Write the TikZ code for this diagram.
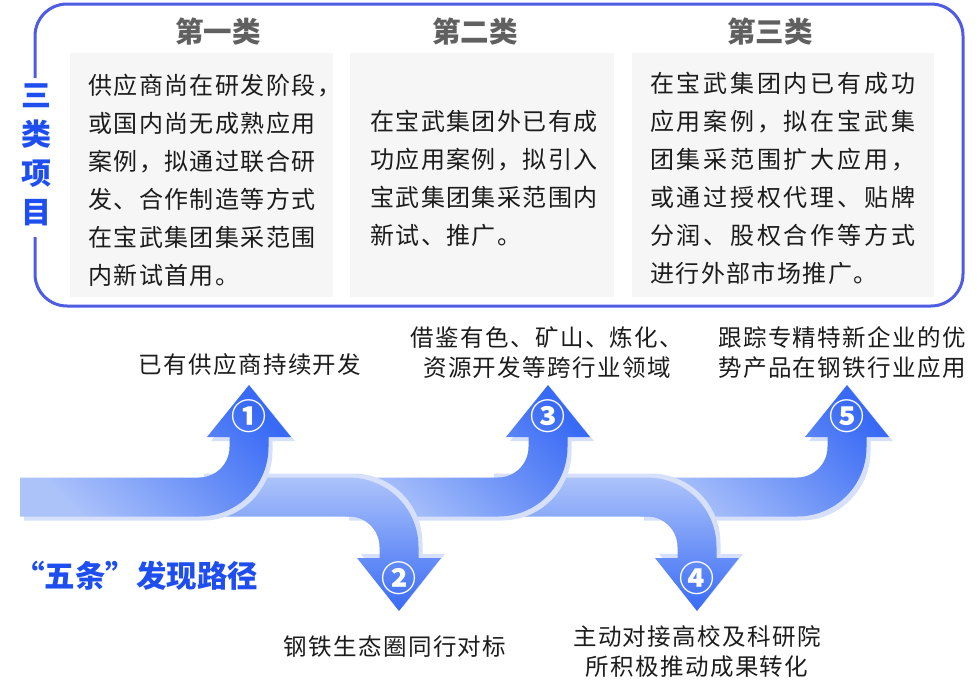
\documentclass[tikz,border=0pt]{standalone}
\usepackage{fontspec}
\setmainfont{Noto Sans CJK SC}
\newfontfamily\lsfont{Noto Sans CJK SC}[LetterSpace=6]
\newfontfamily\lsfontwide{Noto Sans CJK SC}[LetterSpace=11.5]
\definecolor{adark}{RGB}{56,106,245}
\definecolor{alight}{RGB}{172,195,250}
\definecolor{halo}{RGB}{214,224,251}
\definecolor{framecol}{RGB}{78,92,228}
\definecolor{titleblue}{RGB}{30,78,240}
\definecolor{boxgray}{RGB}{246,246,246}
\definecolor{headgray}{RGB}{96,96,96}
\definecolor{txt}{RGB}{28,28,28}
\begin{document}
\begin{tikzpicture}[x=1pt,y=-1pt,
  uparr/.style 2 args={insert path={(#1,477.5) -- ({#2-50},477.5)
     .. controls ({#2-33.15},477.5) and ({#2-19.5},463.85) .. ({#2-19.5},447)
     -- ({#2-19.5},437) -- ({#2-42},437) -- (#2,385) -- ({#2+42},437) -- ({#2+19.5},437)
     -- ({#2+19.5},447) .. controls ({#2+19.5},485.38) and ({#2-11.62},516.5) .. ({#2-50},516.5)
     -- (#1,516.5) -- cycle}},
  downarr/.style 2 args={insert path={(#1,477.5) -- ({#2-50},477.5)
     .. controls ({#2-11.62},477.5) and ({#2+19.5},508.62) .. ({#2+19.5},547)
     -- ({#2+19.5},558) -- ({#2+42},558) -- (#2,611) -- ({#2-42},558) -- ({#2-19.5},558)
     -- ({#2-19.5},547) .. controls ({#2-19.5},530.15) and ({#2-33.15},516.5) .. ({#2-50},516.5)
     -- (#1,516.5) -- cycle}},
  upfill/.style={bottom color=alight, top color=adark, shading angle=-45},
  downfill/.style={top color=alight, bottom color=adark},
  num/.style={text=white, font=\bfseries\fontsize{35}{35}\selectfont, inner sep=0pt},
  lbl/.style={text=txt, font=\lsfont\fontsize{23.5}{30}\selectfont, inner sep=0pt},
  boxtxt/.style={text=txt, font=\lsfont\fontsize{24}{38}\selectfont, inner sep=0pt, align=left, anchor=west},
  head/.style={text=headgray, font=\bfseries\fontsize{28.5}{28.5}\selectfont, inner sep=0pt},
  gbox/.style={fill=boxgray, draw=none, inner sep=0pt},
]
\useasboundingbox (0,0) rectangle (977,688);

% frame
\draw[framecol, line width=3pt, rounded corners=32pt]
  (35,237) -- (35,306) -- (963,306) -- (963,4) -- (35,4) -- (35,78);
\node[text=titleblue, font=\bfseries\fontsize{30}{39}\selectfont, align=center, inner sep=0pt]
  (vtitle) at (36,155) {三\\类\\项\\目};

% gray boxes
\node[gbox, minimum width=263pt, minimum height=244pt] (g1) at (201.5,175) {};
\node[gbox, minimum width=264pt, minimum height=244pt] (g2) at (482,175) {};
\node[gbox, minimum width=302pt, minimum height=244pt] (g3) at (783,175) {};

\node[head] (h1) at (218,32) {第一类};
\node[head] (h2) at (475,32) {第二类};
\node[head] (h3) at (770,32) {第三类};

\node[boxtxt] (b1) at (88,180) {供应商尚在研发阶段，\\或国内尚无成熟应用\\案例，拟通过联合研\\发、合作制造等方式\\在宝武集团集采范围\\内新试首用。};
\node[boxtxt] (b2) at (370,178) {在宝武集团外已有成\\功应用案例，拟引入\\宝武集团集采范围内\\新试、推广。};
\node[boxtxt, font=\lsfontwide\fontsize{24}{38}\selectfont] (b3) at (650,178) {在宝武集团内已有成功\\应用案例，拟在宝武集\\团集采范围扩大应用，\\或通过授权代理、贴牌\\分润、股权合作等方式\\{\lsfont 进行外部市场推广。}};

% arrows (back to front)
\path[fill=halo, shift={(4,4)}, uparr={640}{847}];
\path[upfill, uparr={640}{847}];
\path[fill=halo, shift={(4,-4)}, downarr={490}{697}];
\path[downfill, downarr={490}{697}];
\path[fill=halo, shift={(4,4)}, uparr={345}{548}];
\path[upfill, uparr={345}{548}];
\path[fill=halo, shift={(4,-4)}, downarr={200}{399}];
\path[downfill, downarr={200}{399}];
\path[fill=halo, shift={(4,4)}, uparr={20}{249}];
\path[upfill, uparr={20}{249}];

\node[num] (n1) at (249,416) {①};
\node[num] (n2) at (399,578) {②};
\node[num] (n3) at (548,416) {③};
\node[num] (n4) at (697,578) {④};
\node[num] (n5) at (847,416) {⑤};

% labels
\node[lbl] (l1) at (250,365) {已有供应商持续开发};
\node[lbl, align=center] (l3) at (547,353) {借鉴有色、矿山、炼化、\\资源开发等跨行业领域};
\node[lbl, align=left, anchor=west] (l5) at (718,353) {跟踪专精特新企业的优\\势产品在钢铁行业应用};
\node[lbl] (l2) at (395,647) {钢铁生态圈同行对标};
\node[lbl, align=center] (l4) at (697,652) {主动对接高校及科研院\\所积极推动成果转化};

\node[text=titleblue, font=\bfseries\fontsize{30.5}{30.5}\selectfont, inner sep=0pt] (title) at (136,576) {“五条”发现路径};
\end{tikzpicture}
\end{document}
